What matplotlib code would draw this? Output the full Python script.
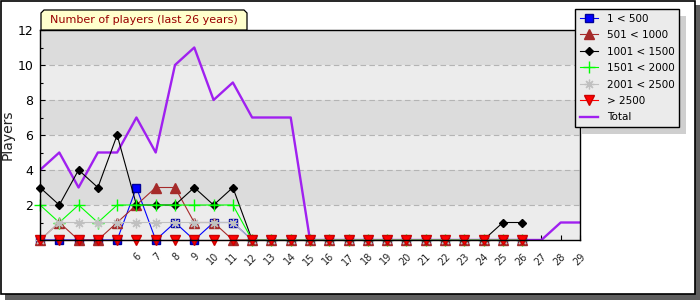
import matplotlib
matplotlib.use("Agg")
import matplotlib.pyplot as plt
from matplotlib.patches import Rectangle, Polygon
import numpy as np

# Data
total = [4, 5, 3, 5, 5, 7, 5, 10, 11, 8, 9, 7, 7, 7, 0, 0, 0, 0, 0, 0,
         0, 0, 0, 0, 0, 0, 0, 1, 1]
lt500 = [0, 0, 0, 0, 0, 3, 0, 1, 0, 1, 1, 0, 0, 0, 0, 0, 0, 0, 0, 0,
         0, 0, 0, 0, 0, 0]
r501_1000 = [0, 1, 0, 0, 1, 2, 3, 3, 1, 1, 0, 0, 0, 0, 0, 0, 0, 0, 0, 0,
             0, 0, 0, 0, 0, 0]
r1001_1500 = [3, 2, 4, 3, 6, 2, 2, 2, 3, 2, 3, 0, 0, 0, 0, 0, 0, 0, 0, 0,
              0, 0, 0, 0, 1, 1]
r1501_2000 = [2, 1, 2, 1, 2, 2, 2, 2, 2, 2, 2, 0, 0, 0, 0, 0, 0, 0, 0, 0,
              0, 0, 0, 0, 0, 0]
r2001_2500 = [0, 1, 1, 1, 1, 1, 1, 1, 1, 1, 1, 0, 0, 0, 0, 0, 0, 0, 0, 0,
              0, 0, 0, 0, 0, 0]
gt2500 = [0] * 26
x_labels = [""] * 5 + [str(i) for i in range(6, 30)]
y_ticks = [0, 2, 4, 6, 8, 10, 12]
y_labels = ["", "2", "4", "6", "8", "10", "12"]

W, H = 700, 300
fig = plt.figure(figsize=(7, 3), dpi=100)

# outer frame with drop shadow
fig.patches.append(Rectangle((5 / W, 0), 1 - 5 / W, 295 / H, transform=fig.transFigure,
                             facecolor="#5f5f5f", edgecolor="none", zorder=-10))
fig.patches.append(Rectangle((0.5 / W, 6 / H), 694 / W, 293.5 / H, transform=fig.transFigure,
                             facecolor="white", edgecolor="black", lw=1.2, zorder=-9))

ax = fig.add_axes([40 / W, 1 - 240 / H, 540 / W, 210 / H])
ax.set_xlim(0, 28)
ax.set_ylim(0, 12)

# alternating background bands + dashed grid
for i, y0 in enumerate(range(0, 12, 2)):
    ax.axhspan(y0, y0 + 2, color="#dcdcdc" if i % 2 else "#ececec", lw=0, zorder=0)
for y in range(2, 12, 2):
    ax.axhline(y, color="#b4b4b4", lw=0.8, ls=(0, (5, 3)), zorder=0.5)

ax.plot(np.arange(len(total)), total, color="#a020f0", lw=1.7, label="Total", zorder=2)

series = [
    (lt500, "1 < 500", "#0000ff", dict(marker="s", ms=6, mfc="#0000ff", mec="#000099")),
    (r501_1000, "501 < 1000", "#a52a2a", dict(marker="^", ms=7, mfc="#a52a2a", mec="#a52a2a")),
    (r1001_1500, "1001 < 1500", "black", dict(marker="D", ms=4.5, mfc="black", mec="black")),
    (r1501_2000, "1501 < 2000", "#00ff00", dict(marker="+", ms=8, mew=1)),
    (r2001_2500, "2001 < 2500", "#c0c0c0", dict(marker=(8, 2, 0), ms=7, mew=0.9)),
    (gt2500, "> 2500", "#ff0000", dict(marker="v", ms=7, mfc="#ff0000", mec="#cc0000")),
]
for vals, name, col, mk in series:
    ax.plot(np.arange(len(vals)), vals, color=col, lw=0.8, label=name,
            zorder=3, clip_on=False, **mk)

ax.set_xticks(np.arange(len(x_labels)))
ax.set_xticklabels(x_labels, rotation=45, ha="right", va="top", rotation_mode="anchor",
                   fontsize=7, color="#222222")
ax.set_yticks(y_ticks)
ax.set_yticklabels(y_labels, fontsize=9)
ax.set_yticks(range(1, 12, 2), minor=True)
ax.tick_params(axis="x", direction="in", length=3.6, width=0.8, pad=8)
ax.tick_params(axis="y", direction="in", length=3.6, width=0.8, pad=5)
ax.tick_params(axis="y", which="minor", direction="in", length=2.5, width=0.8)
for s in ax.spines.values():
    s.set_linewidth(1)
    s.set_zorder(4)

ax.set_ylabel("Players", fontsize=10, color="#222222")
ax.yaxis.set_label_coords(-25 / 540, 0.5)

# title tab
x0, x1, y0, y1, c = 41 / W, 247 / W, 1 - 30 / H, 1 - 10 / H, 3
tab = Polygon([(x0, y0), (x0, y1 - c / H), (x0 + c / W, y1), (x1 - c / W, y1),
               (x1, y1 - c / H), (x1, y0)], closed=True, transform=fig.transFigure,
              facecolor="#ffffcc", edgecolor="black", lw=0.9)
fig.patches.append(tab)
fig.text((x0 + x1) / 2, (y0 + y1) / 2 - 0.3 / H, "Number of players (last 26 years)",
         ha="center", va="center", fontsize=8, color="#990000")

# legend (Total last)
h, l = ax.get_legend_handles_labels()
h, l = h[1:] + h[:1], l[1:] + l[:1]
leg = fig.legend(h, l, loc="upper left", bbox_to_anchor=(575 / W, 1 - 9 / H),
                 fontsize=7.5, frameon=True, fancybox=False, framealpha=1,
                 facecolor="#ebebeb", edgecolor="black", borderpad=0.45,
                 labelspacing=0.62, handlelength=1.8, handletextpad=0.8,
                 borderaxespad=0)
leg.get_frame().set_linewidth(1)

fig.canvas.draw()
bb = leg.get_window_extent().transformed(fig.transFigure.inverted())
fig.patches.append(Rectangle((bb.x0 + 7 / W, bb.y0 - 7 / H), bb.width, bb.height,
                             transform=fig.transFigure, facecolor="#cfcfcf",
                             edgecolor="none", zorder=-1))

fig.savefig("out.png", dpi=100)
